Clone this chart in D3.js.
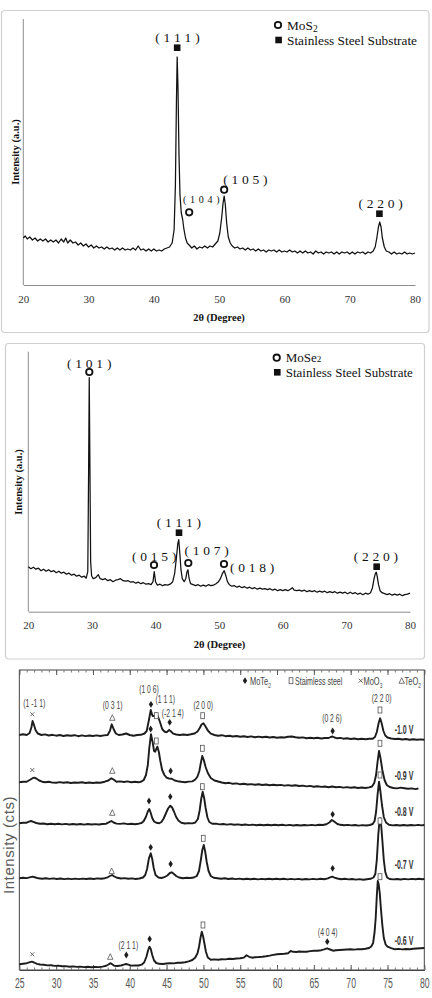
<!DOCTYPE html>
<html><head><meta charset="utf-8">
<script src="https://cdn.jsdelivr.net/npm/d3@7"></script>
<style>body{margin:0;background:#fff}svg{display:block}</style>
</head><body>
<svg id="c" width="432" height="998"></svg>
<script>
// ---------------- DATA ----------------
// Panel 1: MoS2 (2θ, intensity a.u.)
const mos2Trace = [[20,47],[20.3,49],[20.6,46],[21,48],[21.4,45],[21.8,47],[22.2,44],[22.6,46],[23,44],[23.4,46],[23.8,43],[24.2,45],[24.6,43],[25,45],[25.4,42],[25.8,46],[26.2,43],[26.5,47],[26.8,42],[27.2,45],[27.6,42],[28,43],[28.4,40],[28.8,42],[29.2,39],[29.6,41],[30,38],[30.4,40],[30.8,37],[31.2,39],[31.6,37],[32,38],[32.4,36],[32.8,38],[33.2,36],[33.6,37],[34,35],[34.4,37],[34.8,35],[35.2,37],[35.6,35],[36,36],[36.4,35],[36.8,37],[37.2,35],[37.6,39],[38,35],[38.4,36],[38.8,34],[39.2,36],[39.6,34],[40,36],[40.4,34],[40.8,35],[41.2,34],[41.6,36],[42,37],[42.4,38],[42.8,42],[43.1,55],[43.3,100],[43.45,180],[43.57,228],[43.7,195],[43.85,130],[44.0,90],[44.2,72],[44.4,66],[44.6,56],[44.85,47],[45.1,42],[45.4,40],[45.8,37],[46.2,39],[46.6,36],[47,38],[47.4,37],[47.8,39],[48.2,37],[48.6,39],[49,38],[49.4,41],[49.8,44],[50.1,52],[50.4,68],[50.6,82],[50.77,89],[50.95,80],[51.15,62],[51.4,48],[51.7,42],[52,39],[52.4,37],[52.8,38],[53.2,36],[53.6,37],[54,35],[54.4,37],[54.8,35],[55.2,36],[55.6,34],[56,36],[56.4,34],[56.8,35],[57.2,33],[57.6,35],[58,34],[58.4,35],[58.8,33],[59.2,35],[59.6,33],[60,34],[60.4,33],[60.8,35],[61.2,33],[61.6,34],[62,32],[62.4,34],[62.8,32],[63.2,34],[63.6,32],[64,33],[64.4,31],[64.8,34],[65.2,32],[65.6,33],[66,31],[66.4,33],[66.8,32],[67.2,33],[67.6,31],[68,33],[68.4,31],[68.8,33],[69.2,32],[69.6,33],[70,31],[70.4,33],[70.8,31],[71.2,33],[71.6,32],[72,33],[72.4,31],[72.8,33],[73.2,32],[73.6,34],[73.9,38],[74.15,47],[74.4,58],[74.6,63],[74.8,58],[75.0,47],[75.3,38],[75.6,34],[76,33],[76.4,31],[76.8,33],[77.2,31],[77.6,32],[78,31],[78.4,33],[78.8,31],[79.2,32],[79.6,31],[80,32]];
// markers: [phase, 2θ, level]
const mos2Markers = [["steel",43.57,237.3],["mos",45.41,72.7],["mos",50.77,95.3],["steel",74.55,71.3]];
const mos2Labels = [["( 1 1 1 )",43.63,248,"big"],["( 1 0 4 )",47.31,86,"small"],["( 1 0 5 )",54.04,105.7,"big"],["( 2 2 0 )",74.75,81.7,"big"]];

// Panel 2: MoSe2
const mose2Trace = [[20,45],[20.4,43],[20.8,44.5],[21.2,42.5],[21.6,43.5],[22,41],[22.4,42.5],[22.8,40.5],[23.2,42],[23.6,40],[24,41],[24.4,39],[24.8,40.5],[25.2,38.5],[25.6,39.5],[26,37.5],[26.4,38.5],[26.8,36.5],[27.2,37.5],[27.6,35.5],[28,36.5],[28.4,34.5],[28.8,35.5],[29.1,33.5],[29.35,40],[29.48,140],[29.58,234],[29.68,150],[29.8,50],[29.95,36],[30.2,33],[30.6,34],[31,37],[31.3,33],[31.7,32],[32.1,33],[32.5,31],[32.9,32],[33.3,30],[33.7,31.5],[34.1,32],[34.5,33],[34.9,31],[35.3,30.5],[35.7,31],[36.1,29.5],[36.5,30],[36.9,28.5],[37.3,29.5],[37.7,28],[38.1,29],[38.5,27.5],[38.9,28],[39.3,27],[39.6,30],[39.8,40],[40.0,30],[40.3,26.5],[40.7,27.5],[41.1,26],[41.5,27],[41.9,26.5],[42.3,27.5],[42.7,30],[43.0,38],[43.25,52],[43.5,68],[43.65,72],[43.8,60],[44.0,42],[44.2,33],[44.5,30],[44.75,33],[44.95,40],[45.1,42],[45.25,34],[45.5,28],[45.9,27],[46.3,26],[46.7,27],[47.1,25.5],[47.5,26.5],[47.9,25.5],[48.3,27],[48.7,26],[49.1,26.5],[49.5,28],[49.9,30],[50.2,33],[50.5,38],[50.8,41],[51.05,36],[51.3,30],[51.6,27],[52,25.5],[52.4,26],[52.8,24.5],[53.2,25.5],[53.6,24],[54,25],[54.4,23.5],[54.8,24.5],[55.2,23],[55.6,24],[56,22.5],[56.4,23.5],[56.8,22.5],[57.2,23],[57.6,22],[58,23],[58.4,21.5],[58.8,22.5],[59.2,21],[59.6,22],[60,21],[60.4,22],[60.8,21],[61.2,22.5],[61.5,24],[61.8,21.5],[62.2,21],[62.6,21.5],[63,20.5],[63.4,21.5],[63.8,20],[64.2,21],[64.6,20],[65,21],[65.4,19.5],[65.8,20.5],[66.2,19.5],[66.6,20.5],[67,19],[67.4,20],[67.8,19],[68.2,20],[68.6,18.5],[69,19.5],[69.4,18.5],[69.8,19.5],[70.2,18],[70.6,19.5],[71,18],[71.4,19],[71.8,17.5],[72.2,18.5],[72.6,17],[73,18.5],[73.4,17.5],[73.8,19],[74.1,24],[74.35,33],[74.55,38],[74.7,39.5],[74.85,35],[75.05,27],[75.3,21],[75.6,19],[76,18],[76.4,17],[76.8,18],[77.2,16.5],[77.6,17.5],[78,16.5],[78.4,17.5],[78.8,16],[79.2,17],[79.6,17.5],[80,18.5]];
const mose2Markers = [["mos",29.59,239.7],["steel",43.69,79],["mos",39.76,46.7],["mos",45.15,48.7],["mos",50.76,47.7],["steel",74.76,45]];
const mose2Labels = [["( 1 0 1 )",29.59,248.4],["( 1 1 1 )",43.69,89.4],["( 0 1 5 )",39.81,55],["( 1 0 7 )",48.04,61.7],["( 0 1 8 )",55.21,44],["( 2 2 0 )",74.65,55.7]];

const serifTicks = [20,30,40,50,60,70,80];

// Panel 3: MoTe2 at several potentials (stacked, counts offset)
const mote2Series = ["-1.0 V","-0.9 V","-0.8 V","-0.7 V","-0.6 V"];
const m10 = [[25,235],[25.5,235.7],[26,235],[26.4,237],[26.65,243],[26.8,249],[26.95,246],[27.2,240],[27.5,236.5],[28,235],[28.5,235.6],[29,234.5],[29.5,235.2],[30,234.3],[30.5,235],[31,234],[31.5,234.8],[32,234.2],[32.5,234.8],[33,233.8],[33.5,234.6],[34,233.9],[34.5,234.5],[35,234],[35.5,234.6],[36,234],[36.5,234.6],[37,235],[37.3,239],[37.55,245.7],[37.8,241],[38.1,236.5],[38.5,235],[39,235.5],[39.5,236.5],[40,235],[40.5,234.3],[41,235],[41.5,235.2],[42,236.5],[42.3,239],[42.6,250],[42.85,260],[43.1,254],[43.35,254],[43.6,256.7],[43.85,253],[44.1,248],[44.4,241],[44.7,238.5],[45.0,237.7],[45.35,240],[45.6,238.5],[45.9,236.3],[46.3,235.5],[46.8,235],[47.3,235.5],[47.8,235],[48.3,235.7],[48.8,236.5],[49.2,238.5],[49.5,242],[49.75,245.5],[50.0,246.7],[50.25,244],[50.6,239.5],[51,236.3],[51.5,235],[52,234.3],[52.5,234.8],[53,233.8],[53.5,234.3],[54,233.5],[54.5,234],[55,233.3],[55.5,233.8],[56,233],[56.5,233.6],[57,232.8],[57.5,233.4],[58,232.7],[58.5,233.2],[59,232.5],[59.5,233],[60,232.3],[60.5,232.8],[61,232.5],[61.5,233.3],[62,233.5],[62.5,232.8],[63,232.2],[63.5,232.6],[64,231.8],[64.5,232.3],[65,231.7],[65.5,232.2],[66,231.5],[66.5,232],[67,232],[67.3,233],[67.55,233.5],[67.8,232.5],[68.2,231.7],[68.6,232.1],[69,231.3],[69.5,231.8],[70,231],[70.5,231.5],[71,230.8],[71.5,231.3],[72,230.7],[72.5,231.2],[73,231.2],[73.3,233],[73.55,238],[73.8,247],[74.0,251.7],[74.2,247],[74.45,239],[74.7,234.5],[75,232.5],[75.5,231.5],[76,231],[76.5,231.3],[77,230.5],[77.5,231],[78,230.3],[78.5,230.8],[79,230.2],[79.5,230.6],[80,230.3]];
const m09 = [[25,187.7],[25.5,188.2],[26,188.3],[26.4,190],[26.8,191.8],[27.0,192.3],[27.3,191.5],[27.7,189.5],[28.1,188.3],[28.5,187.7],[29,188.2],[29.5,187.4],[30,187.3],[30.5,187.9],[31,187.2],[31.5,187.7],[32,187],[32.5,187.5],[33,187.3],[33.5,187.8],[34,187],[34.5,187.5],[35,187],[35.5,187.5],[36,187.3],[36.6,188.3],[37.1,189.5],[37.5,191.7],[37.8,190.5],[38.2,188.3],[38.7,188.6],[39.2,188],[39.7,188.6],[40.2,187.8],[40.7,188.2],[41.2,187.7],[41.6,188.5],[41.9,190],[42.2,195],[42.45,205],[42.65,222],[42.88,235.7],[43.1,228],[43.3,219],[43.45,218.3],[43.6,221],[43.75,223.3],[43.95,218],[44.15,209],[44.4,200],[44.7,195],[45,192.3],[45.3,191.5],[45.7,191.2],[46.1,189.5],[46.5,188.8],[47,188.2],[47.5,187.7],[48,188.4],[48.5,188.6],[48.9,190.5],[49.2,193.5],[49.45,199],[49.65,207],[49.85,214],[50.05,210],[50.3,203],[50.6,197],[51,192],[51.5,189.5],[52,188.5],[52.5,187.5],[53,186.7],[53.5,187.2],[54,186.2],[54.5,186.6],[55,185.7],[55.5,186.2],[56,185.5],[56.5,185.9],[57,185.2],[57.5,185.7],[58,185],[58.5,185.5],[59,184.8],[59.5,185.3],[60,184.7],[60.5,185.1],[61,184.4],[61.5,184.9],[62,184.2],[62.5,184.7],[63,184],[63.5,184.4],[64,183.6],[64.5,184.1],[65,183.3],[65.5,183.8],[66,183.1],[66.5,183.5],[67,182.8],[67.5,183.5],[68,182.7],[68.5,183.1],[69,182.4],[69.5,182.9],[70,182.3],[70.5,182.7],[71,182],[71.5,182.5],[72,182],[72.5,182.6],[72.9,183.5],[73.2,187],[73.45,195],[73.65,208],[73.85,219],[74.05,212],[74.3,200],[74.6,190],[74.9,185],[75.3,183],[75.8,182],[76.3,181.6],[76.8,182.4],[77.3,181.8],[77.8,181.2],[78.3,181.6],[78.8,180.9],[79.2,181.5]];
const m08 = [[25,146.7],[25.5,147.2],[26,147.3],[26.3,148.3],[26.6,149],[26.9,148.2],[27.3,147],[27.8,146.3],[28.3,146.5],[28.8,145.8],[29.3,146.3],[29.8,145.7],[30.3,146.2],[30.8,145.6],[31.3,146.1],[31.8,145.5],[32.3,146],[32.8,145.5],[33.3,146],[33.8,145.4],[34.3,146],[34.8,145.5],[35.3,145.9],[35.8,145.5],[36.3,146],[36.8,146.3],[37.2,147.8],[37.5,149],[37.8,147.5],[38.2,146.4],[38.7,146.1],[39.2,146.6],[39.7,145.9],[40.2,146.3],[40.7,145.8],[41.2,146.3],[41.6,147],[41.9,149],[42.2,153.3],[42.45,158.5],[42.65,161],[42.85,157],[43.05,152],[43.3,148.5],[43.6,147.2],[44,146.7],[44.3,148],[44.6,151.5],[44.9,156.5],[45.2,161.5],[45.5,164.3],[45.75,162.5],[46.0,158.5],[46.3,153],[46.6,149.5],[47,147.2],[47.5,146.5],[48,146.9],[48.5,146.6],[48.9,147.5],[49.25,151],[49.5,160],[49.7,171],[49.9,178.3],[50.1,172],[50.3,162],[50.55,152.5],[50.8,148],[51.2,146.2],[51.7,146.4],[52.2,145.6],[52.7,146],[53.2,145.4],[53.7,145.9],[54.2,145.2],[54.7,145.6],[55.2,145],[55.7,145.5],[56.2,144.9],[56.7,145.4],[57.2,144.8],[57.7,145.3],[58.2,144.8],[58.7,145.3],[59.2,144.7],[59.7,145.2],[60.2,144.7],[60.7,145.2],[61.2,144.6],[61.7,145.1],[62.2,144.5],[62.7,145],[63.2,144.5],[63.7,145],[64.2,144.6],[64.7,145.1],[65.2,144.6],[65.7,145.2],[66.2,145],[66.7,145.8],[67.1,147.5],[67.45,150],[67.8,148.2],[68.2,146],[68.6,145.2],[69.1,144.7],[69.6,145.1],[70.1,144.6],[70.6,145],[71.1,144.4],[71.6,144.9],[72.1,144.5],[72.6,145],[73,146],[73.25,149],[73.45,158],[73.65,175],[73.85,188.3],[74.05,178],[74.25,165],[74.5,153],[74.8,147.5],[75.2,145.2],[75.7,144.6],[76.2,145],[76.7,144.5],[77.2,145],[77.7,144.5],[78.2,145],[78.7,144.6],[79.2,145.1],[79.6,144.6],[80,145]];
const m07 = [[25,91.7],[25.5,92.2],[26,91.9],[26.4,92.6],[26.8,93.3],[27.2,92.5],[27.6,91.7],[28.1,91.3],[28.6,91.8],[29.1,91.1],[29.6,91.6],[30.1,91],[30.6,91.5],[31.1,90.9],[31.6,91.4],[32.1,90.9],[32.6,91.4],[33.1,90.9],[33.6,91.4],[34.1,91],[34.6,91.5],[35.1,91],[35.6,91.6],[36.1,91.2],[36.6,91.8],[37.0,92.7],[37.3,94],[37.6,95],[37.9,93.5],[38.3,92.2],[38.8,91.5],[39.3,91.9],[39.8,91.2],[40.3,91.6],[40.8,91],[41.3,91.5],[41.8,92.5],[42.1,95],[42.35,101],[42.6,111.7],[42.85,116.7],[43.05,111],[43.25,102],[43.5,95],[43.9,92.5],[44.3,92],[44.7,92.8],[45.1,94.5],[45.45,97],[45.7,97.7],[46,96],[46.3,94],[46.7,92.5],[47.2,91.7],[47.7,92.2],[48.2,92],[48.7,92.5],[49.1,94],[49.4,99],[49.65,110],[49.85,120],[50.05,125],[50.25,118],[50.45,108],[50.7,99],[51,94],[51.4,92.2],[51.9,91.7],[52.4,91.2],[52.9,91.7],[53.4,91],[53.9,91.5],[54.4,90.9],[54.9,91.4],[55.4,90.8],[55.9,91.3],[56.4,90.7],[56.9,91.2],[57.4,90.6],[57.9,91.1],[58.4,90.7],[58.9,91.2],[59.4,90.8],[59.9,91.2],[60.4,90.7],[60.9,91.2],[61.4,90.6],[61.9,91.1],[62.4,90.6],[62.9,91.1],[63.4,90.5],[63.9,91],[64.4,90.6],[64.9,91.1],[65.4,90.6],[65.9,91.2],[66.4,90.8],[66.9,91.6],[67.2,92.6],[67.5,93.3],[67.8,92.4],[68.2,91.5],[68.7,90.8],[69.2,91.2],[69.7,90.6],[70.2,91],[70.7,90.4],[71.2,90.9],[71.7,90.3],[72.2,90.8],[72.7,91.2],[73.1,92.5],[73.35,96],[73.55,110],[73.75,135],[73.9,148],[74.0,151.7],[74.15,144],[74.3,130],[74.5,110],[74.7,98],[74.95,92.5],[75.3,91],[75.8,90.6],[76.3,91],[76.8,90.5],[77.3,91.1],[77.8,90.6],[78.3,91.1],[78.8,90.7],[79.3,91.2],[79.7,90.8],[80,91]];
const m06 = [[25,5.7],[25.5,6.3],[26,6.8],[26.35,7.6],[26.7,8.3],[27,7.5],[27.4,6.2],[27.8,5.5],[28.3,5.2],[28.8,4.6],[29.3,4.8],[29.8,4.1],[30.3,4.4],[30.8,3.7],[31.3,3.9],[31.8,3.3],[32.3,3.6],[32.8,3.1],[33.3,3.4],[33.8,2.9],[34.3,3.2],[34.8,2.7],[35.3,3.1],[35.8,2.9],[36.3,3.4],[36.8,4.2],[37.1,5.5],[37.35,6.8],[37.6,5.8],[37.9,4.3],[38.3,4],[38.8,4.5],[39.2,5.4],[39.5,6],[39.8,5.3],[40.2,4.4],[40.7,4.6],[41.2,4.5],[41.6,5.3],[41.95,7.5],[42.25,13],[42.5,20],[42.68,23.3],[42.85,21],[43.05,15],[43.3,9.5],[43.6,7],[44,6.2],[44.5,6],[45,6.5],[45.5,6.8],[46,6.6],[46.5,7.3],[47,7.2],[47.5,7.8],[48,8.6],[48.5,10],[48.9,12.5],[49.2,16.7],[49.4,23],[49.6,32],[49.78,38.3],[49.95,34],[50.15,26],[50.35,18],[50.6,12.5],[51,10.2],[51.5,10.6],[52,10.3],[52.5,10.8],[53,10.6],[53.5,11.2],[54,11],[54.5,11.5],[55,11.8],[55.5,12.4],[55.85,14.8],[56.2,13.2],[56.6,12.3],[57,12.8],[57.5,13],[58,13.3],[58.5,13.8],[59,14.4],[59.5,15.1],[60,15.7],[60.5,16],[61,16.2],[61.5,16.8],[61.85,19],[62.2,18.2],[62.6,18],[63,18.5],[63.5,18.2],[64,18.3],[64.5,18.9],[65,19.2],[65.5,19.3],[66,19.8],[66.4,20.6],[66.8,21.7],[67.2,20.5],[67.6,19.3],[68,19.7],[68.5,20],[69,20.3],[69.5,20.5],[70,20.7],[70.5,20.4],[71,20.9],[71.5,20.7],[72,21.2],[72.5,22],[72.8,23.5],[73.05,27],[73.25,38],[73.4,52],[73.55,74],[73.68,89],[73.8,86],[73.95,77],[74.1,62],[74.3,45],[74.5,32],[74.75,25.5],[75,23.3],[75.5,21.8],[76,20.7],[76.5,21.1],[77,20.6],[77.5,21],[78,20.7],[78.5,21.2],[79,21.5],[79.5,21.8],[80,22]];
const mote2Traces = [m10, m09, m08, m07, m06];
const mote2LabelLevel = [240, 194.3, 158.3, 105, 29.3];
// markers: [type, 2θ, level]  d=MoTe2, s=stainless steel, x=MoO3, t=TeO2
const mote2Markers = [
 ["x",26.76,255.7],["t",37.63,252.3],["d",42.88,265.7],["s",43.6,254.3],["d",45.42,247.7],["s",49.9,254.3],["d",67.55,239],["s",73.98,260],
 ["x",26.76,200],["t",37.63,199.3],["d",42.84,241],["s",43.6,229],["d",45.55,199],["s",49.85,221.7],["s",73.98,226.7],
 ["t",37.63,157.3],["d",42.61,169],["d",45.5,173.3],["s",49.85,183.3],["d",67.55,155.7],["s",73.98,195],
 ["t",37.54,99],["d",42.84,122.7],["d",45.55,106],["s",49.98,131.7],["d",67.55,101.7],["s",73.98,149],
 ["x",26.76,15.7],["t",37.35,13.3],["d",39.53,15],["d",42.7,31],["s",49.94,45],["d",66.82,28.3],["s",73.98,93.3]];
const mote2Hkl = [["(1 -1 1)",27.03,266.7],["(0 3 1)",37.68,265],["(1 0 6)",42.61,280.7],["(1 1 1)",44.82,271],["(-2 1 4)",45.83,257.3],["(2 0 0)",49.98,265],["(0 2 6)",67.46,251.7],["(2 2 0)",74.21,272.3],["(2 1 1)",39.8,25],["(4 0 4)",66.88,38.3]];
const mote2Ticks = [25,30,35,40,45,50,55,60,65,70,75,80];
const mote2MinorTicks = d3.range(25,81,1);

// ---------------- DRAW ----------------
const svg = d3.select("#c");
const serif = "'Liberation Serif','Times New Roman',serif";
const sans = "'Liberation Sans',Arial,sans-serif";

function serifMarker(g, type, cx, cy){
  if(type==="mos"){
    g.append("circle").attr("cx",cx).attr("cy",cy).attr("r",3.2).attr("fill","#fff").attr("stroke","#111").attr("stroke-width",1.8);
  } else {
    g.append("rect").attr("x",cx-3.3).attr("y",cy-3.3).attr("width",6.6).attr("height",6.6).attr("fill","#111");
  }
}

function serifPanel(o){
  const g = svg.append("g");
  g.append("rect").attr("x",o.box[0]).attr("y",o.box[1]).attr("width",o.box[2]).attr("height",o.box[3])
   .attr("rx",3).attr("fill","#fff").attr("stroke","#d0d0d0").attr("stroke-width",1.2);
  const x = d3.scaleLinear().domain([20,80]).range(o.xRange);
  const y = d3.scaleLinear().domain(o.yDomain).range(o.yRange);
  const ax = g.append("g").attr("transform",`translate(0,${o.yRange[0]})`)
    .call(d3.axisBottom(x).tickValues(serifTicks).tickSize(0).tickSizeOuter(0).tickPadding(9.8));
  ax.select(".domain").attr("stroke","#8c8c8c");
  ax.selectAll("text").attr("font-family",serif).attr("font-size",11).attr("fill","#333");
  g.append("line").attr("x1",o.xRange[0]).attr("x2",o.xRange[0]).attr("y1",o.yRange[0]).attr("y2",o.yRange[1]).attr("stroke","#8c8c8c");
  g.append("path").datum(o.trace)
    .attr("d",d3.line().x(d=>x(d[0])).y(d=>y(d[1])))
    .attr("fill","none").attr("stroke","#111").attr("stroke-width",1.25).attr("stroke-linejoin","round");
  o.markers.forEach(m=>serifMarker(g,m[0],x(m[1]),y(m[2])));
  o.labels.forEach(l=>{
    const small = l[3]==="small";
    g.append("text").attr("x",x(l[1])).attr("y",y(l[2])).attr("dy","0.35em").attr("text-anchor","middle")
     .attr("font-family",serif).attr("font-size",small?10:13.5).attr("letter-spacing",small?0.6:0.2).attr("fill","#111").text(l[0]);
  });
  g.append("text").attr("x",o.xTitle[0]).attr("y",o.xTitle[1]).attr("dy","0.35em").attr("text-anchor","middle")
   .attr("font-family",serif).attr("font-size",10.5).attr("font-weight","bold").attr("fill","#111").text("2θ (Degree)");
  g.append("text").attr("transform",`translate(${o.yTitle[0]},${o.yTitle[1]}) rotate(-90)`).attr("dy","0.35em").attr("text-anchor","middle")
   .attr("font-family",serif).attr("font-size",10.5).attr("font-weight","bold").attr("fill","#111").text("Intensity (a.u.)");
  // legend
  const lg = g.append("g").attr("font-family",serif).attr("fill","#111");
  serifMarker(lg,"mos",o.legend[0],o.legend[1]);
  serifMarker(lg,"steel",o.legend[0]+0.6,o.legend[2]);
  const t1 = lg.append("text").attr("x",o.legend[0]+9).attr("y",o.legend[1]).attr("dy","0.35em").attr("font-size",o.legendSize);
  t1.append("tspan").text(o.legendName);
  if(o.subscript){ t1.append("tspan").attr("font-size",o.legendSize*0.72).attr("dy","0.25em").text("2"); }
  else { t1.append("tspan").attr("font-size",o.legendSize*0.7).text("2"); }
  lg.append("text").attr("x",o.legend[0]+9).attr("y",o.legend[2]).attr("dy","0.35em").attr("font-size",o.legendSize).text("Stainless Steel Substrate");
}

serifPanel({box:[1.5,10.5,427.5,322], xRange:[23.3,415], yDomain:[0,266], yRange:[285,19],
  trace:mos2Trace, markers:mos2Markers, labels:mos2Labels, xTitle:[219,317.5], yTitle:[15,152],
  legend:[278,25,40], legendName:"MoS", subscript:true, legendSize:13.3});
serifPanel({box:[5.5,343.5,419,315.5], xRange:[28.3,410], yDomain:[0,260], yRange:[611.7,351.7],
  trace:mose2Trace, markers:mose2Markers, labels:mose2Labels.map(l=>[l[0],l[1],l[2],"big"]), xTitle:[219.5,644], yTitle:[18,482],
  legend:[276.7,357.7,372.3], legendName:"MoSe", subscript:false, legendSize:13});

// ---- Panel 3 ----
(function(){
  const g = svg.append("g");
  const x = d3.scaleLinear().domain([25,80]).range([19.33,424.3]);
  const y = d3.scaleLinear().domain([0,300]).range([970,670]);
  const ink = "#3a3a3a";
  function ntext(parent, px, py, str, size, sx, anchor, weight, fill){
    return parent.append("text").attr("transform",`translate(${px},${py}) scale(${sx},1)`)
      .attr("dy","0.35em").attr("text-anchor",anchor).attr("font-family",sans).attr("font-size",size)
      .attr("font-weight",weight||"normal").attr("fill",fill||ink).text(str);
  }
  // frame
  g.append("rect").attr("x",19.33).attr("y",670).attr("width",424.3-19.33).attr("height",300)
   .attr("fill","none").attr("stroke","#444").attr("stroke-width",1);
  // bottom axis
  const bx = g.append("g").attr("transform","translate(0,970)")
    .call(d3.axisBottom(x).tickValues(mote2Ticks).tickSize(-5).tickSizeOuter(0).tickPadding(8.4));
  bx.select(".domain").attr("stroke","#444");
  bx.selectAll(".tick line").attr("stroke","#555");
  bx.selectAll("text").attr("font-family",sans).attr("font-size",14).attr("fill","#555")
    .attr("transform","scale(0.62,1)");
  const bm = g.append("g").attr("transform","translate(0,970)")
    .call(d3.axisBottom(x).tickValues(mote2MinorTicks).tickSize(-2.5).tickFormat(""));
  bm.select(".domain").remove(); bm.selectAll(".tick line").attr("stroke","#777");
  const tm = g.append("g").attr("transform","translate(0,670)")
    .call(d3.axisTop(x).tickValues(mote2MinorTicks).tickSize(-2.5).tickFormat(""));
  tm.select(".domain").remove(); tm.selectAll(".tick line").attr("stroke","#777");
  const tM = g.append("g").attr("transform","translate(0,670)")
    .call(d3.axisTop(x).tickValues(mote2Ticks).tickSize(-5).tickFormat(""));
  tM.select(".domain").remove(); tM.selectAll(".tick line").attr("stroke","#555");
  // traces
  const line = d3.line().x(d=>x(d[0])).y(d=>y(d[1]));
  g.selectAll("path.tr").data(mote2Traces).join("path").attr("class","tr")
    .attr("d",line).attr("fill","none").attr("stroke","#1c1c1c").attr("stroke-width",1.9).attr("stroke-linejoin","round");
  // trace labels
  mote2Series.forEach((s,i)=>ntext(g,x(77.24),y(mote2LabelLevel[i]),s,12.5,0.56,"middle","bold","#333"));
  // markers
  function marker(parent,t,cx,cy){
    const m = parent.append("g").attr("transform",`translate(${cx},${cy})`);
    if(t==="d") m.append("path").attr("d","M0,-3.4L2.2,0L0,3.4L-2.2,0Z").attr("fill","#1e1e1e");
    else if(t==="s") m.append("rect").attr("x",-1.9).attr("y",-3).attr("width",3.8).attr("height",6).attr("fill","#fff").attr("stroke","#555").attr("stroke-width",0.8);
    else if(t==="x") m.append("path").attr("d","M-2,-2L2,2M2,-2L-2,2").attr("stroke","#555").attr("stroke-width",0.9);
    else m.append("path").attr("d","M0,-3L2.7,2.6L-2.7,2.6Z").attr("fill","none").attr("stroke","#555").attr("stroke-width",0.8);
  }
  mote2Markers.forEach(m=>marker(g,m[0],x(m[1]),y(m[2])));
  // hkl labels
  mote2Hkl.forEach(h=>ntext(g,x(h[1]),y(h[2]),h[0],11,0.62,"middle","normal","#444"));
  // legend
  const ly = 680.7;
  marker(g,"d",245,ly);
  const l1 = ntext(g,250,ly,"MoTe",11,0.68,"start","normal","#444");
  l1.append("tspan").attr("font-size",7).attr("dy","0.45em").text("2");
  marker(g,"s",291,ly);
  ntext(g,295,ly,"Staimless steel",11,0.64,"start","normal","#444");
  marker(g,"x",360.7,ly);
  const l3 = ntext(g,363.5,ly,"MoO",11,0.68,"start","normal","#444");
  l3.append("tspan").attr("font-size",7).attr("dy","0.45em").text("3");
  marker(g,"t",401.7,ly);
  const l4 = ntext(g,404.5,ly,"TeO",11,0.68,"start","normal","#444");
  l4.append("tspan").attr("font-size",7).attr("dy","0.45em").text("2");
  // y title
  g.append("text").attr("transform","translate(8.5,845) rotate(-90)").attr("dy","0.35em").attr("text-anchor","middle")
   .attr("font-family",sans).attr("font-size",15).attr("letter-spacing",0.6).attr("fill","#5a5a5a").text("Intensity (cts)");
})();
</script>
</body></html>
